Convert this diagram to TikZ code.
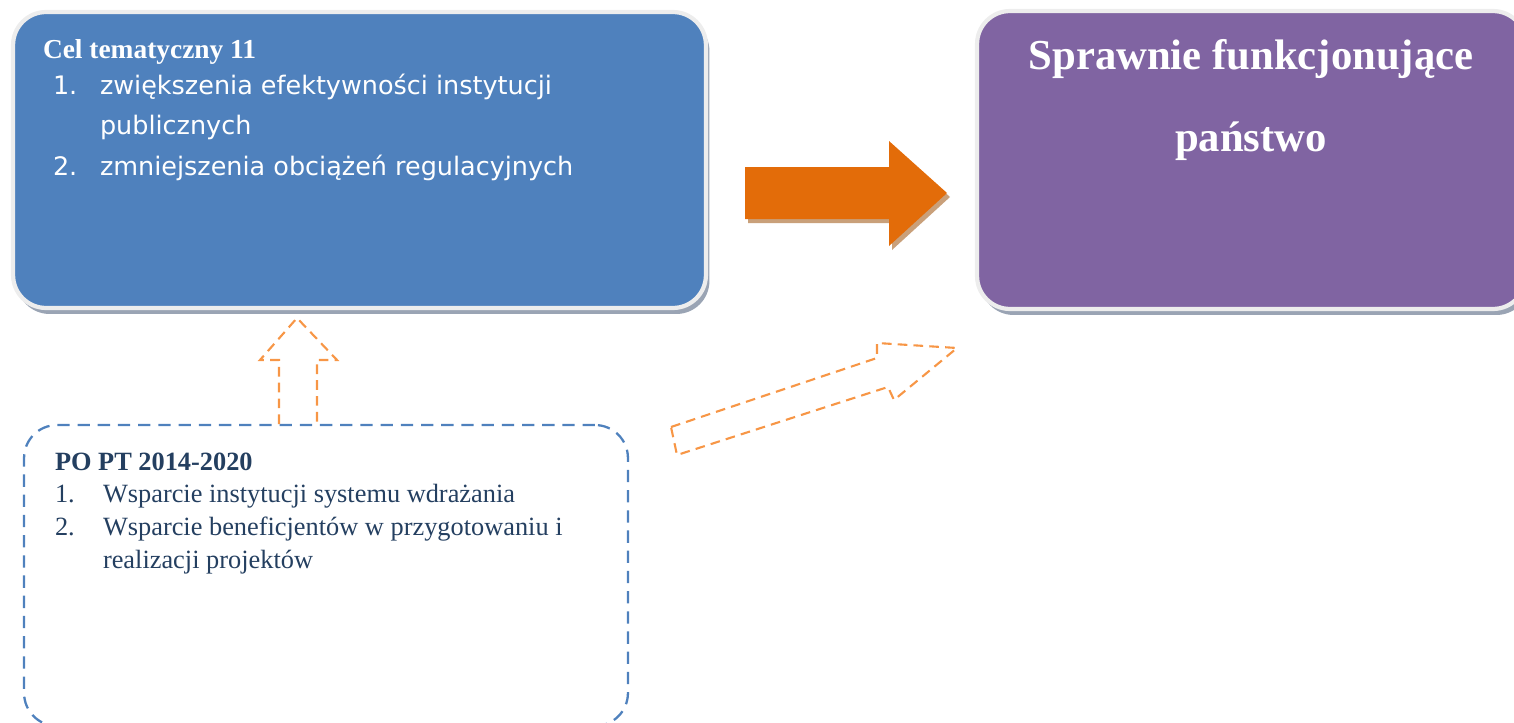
\documentclass[tikz,border=0pt]{standalone}
\usepackage{fontspec}
\setmainfont{Liberation Serif}
\newfontfamily\itemfont{DejaVu Sans}

\definecolor{celblue}{HTML}{4F81BD}
\definecolor{stanpurple}{HTML}{8064A2}
\definecolor{bigorange}{HTML}{E36C09}
\definecolor{lightorange}{HTML}{F79646}
\definecolor{navytext}{HTML}{243F60}
\definecolor{shadowgray}{HTML}{9AA4B4}
\definecolor{shadowtan}{HTML}{C9A07A}

\tikzstyle{panel}    = [rectangle, rounded corners=0.66cm, inner sep=0pt, outer sep=0pt]
\tikzstyle{ring}     = [draw=black!7, line width=2.4pt]
\tikzstyle{shade}    = [fill=shadowgray, draw=none]
\tikzstyle{line}     = [inner sep=0pt, outer sep=0pt, anchor=base west]
\tikzstyle{dasharrow}= [draw=lightorange, line width=1.2pt, dash pattern=on 5.5pt off 3.5pt]

\begin{document}
\begin{tikzpicture}[x=0.02cm, y=-0.02cm]
     \useasboundingbox (0,0) rectangle (1514,723);
     \tikzstyle{celtxt}=[line, text=white, font=\itemfont\fontsize{14.5}{17}\selectfont]
     \tikzstyle{poptxt}=[line, text=navytext, font=\fontsize{15}{18}\selectfont]

     \node[panel, shade, minimum width=13.86cm, minimum height=5.92cm] at (363,166) {};
     \node[panel, ring, fill=celblue, minimum width=13.86cm, minimum height=5.92cm] (cel) at (359.5,160) {};
     \node[panel, shade, minimum width=10.98cm, minimum height=5.96cm] at (1255,166) {};
     \node[panel, ring, fill=stanpurple, minimum width=10.98cm, minimum height=5.96cm] (panstwo) at (1251.5,160) {};

     \node[line, text=white, font=\fontsize{15.6}{18}\selectfont\bfseries] (celtitle) at (43,59) {Cel tematyczny 11};
     \node[celtxt] (celnum1) at (53,94)  {1.};
     \node[celtxt] (celone)  at (100,94) {zwiększenia efektywności instytucji};
     \node[celtxt] (celtwo)  at (100,134) {publicznych};
     \node[celtxt] (celnum2) at (53,175) {2.};
     \node[celtxt] (celthree) at (100,175) {zmniejszenia obciążeń regulacyjnych};

     \node[anchor=base, inner sep=0pt, text=white, font=\fontsize{24.3}{29}\selectfont\bfseries] (stantitle) at (1251,70) {Sprawnie funkcjonujące};
     \node[anchor=base, inner sep=0pt, text=white, font=\fontsize{24.3}{29}\selectfont\bfseries] (stanword) at (1251,152) {państwo};

     \fill[shadowtan, shift={(3,4)}] (745,167) -- (889,167) -- (889,141) -- (947,193) -- (889,246) -- (889,219) -- (745,219) -- cycle;
     \fill[bigorange] (745,167) -- (889,167) -- (889,141) -- (947,193) -- (889,246) -- (889,219) -- (745,219) -- cycle;

     \node[panel, draw=celblue, line width=1.3pt, dash pattern=on 7pt off 4.5pt, minimum width=12.08cm, minimum height=6.02cm] (popt) at (326,575.5) {};
     \node[line, text=navytext, font=\fontsize{15}{18}\selectfont\bfseries] (popttitle) at (55,470) {PO PT 2014-2020};
     \node[poptxt] (poptnum1) at (55,502)  {1.};
     \node[poptxt] (poptone)  at (103,502) {Wsparcie instytucji systemu wdrażania};
     \node[poptxt] (poptnum2) at (55,535)  {2.};
     \node[poptxt] (popttwo)  at (103,535) {Wsparcie beneficjentów w przygotowaniu i};
     \node[poptxt] (poptthree) at (103,568) {realizacji projektów};

     \draw[dasharrow] (279,424) -- (279,360) -- (260,360) -- (297,318) -- (337,360) -- (317,360) -- (317,424);
     \draw[dasharrow] (671,427) -- (877,358) -- (877,343) -- (957,348) -- (894,400) -- (888,387) -- (677,455) -- cycle;
\end{tikzpicture}
\end{document}
